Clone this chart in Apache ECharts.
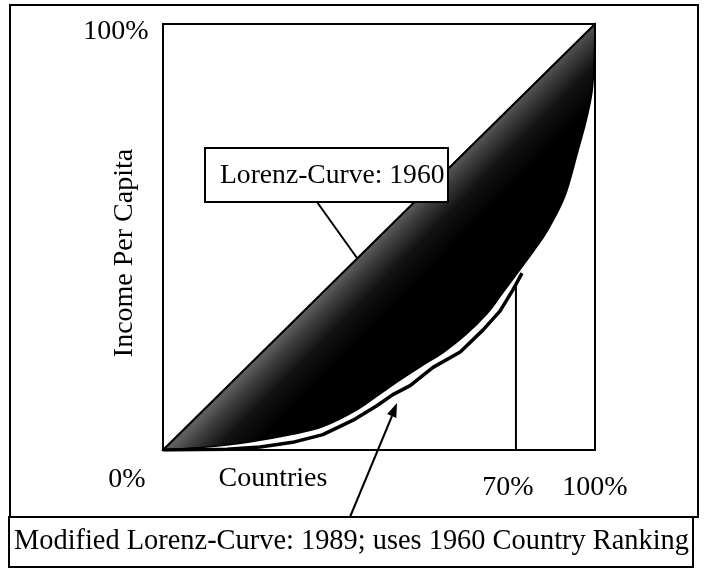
<!DOCTYPE html>
<html><head><meta charset="utf-8">
<script src="https://cdn.jsdelivr.net/npm/echarts@6/dist/echarts.min.js"></script>
<style>html,body{margin:0;padding:0;background:#fff}#c{width:704px;height:570px}</style>
</head><body><div id="c"></div>
<script>
// ---- data (percent of countries on x, percent of income per capita on y) ----
const lorenz1960X = [0, 10, 20, 30, 37, 45, 50, 55, 60, 65, 70, 75, 78, 82, 86, 89, 93, 96, 98, 99.3, 99.8, 100];
const lorenz1960Y = [0, 0.7, 1.9, 3.7, 5.5, 9.5, 13, 16.5, 19.8, 23, 27, 32, 36, 41.5, 47, 51.5, 59.5, 70, 77.5, 84, 91, 100];
const lorenz1989X = [0, 14.8, 22.5, 30, 37, 44, 49.5, 53.2, 57.2, 62.5, 68.8, 74.1, 78, 81, 83.1];
const lorenz1989Y = [0, 0.2, 0.7, 1.8, 3.6, 7, 10.4, 13, 15.1, 19.4, 23, 28.2, 32.6, 37.6, 41.5];
const equalityX = [0, 100];
const equalityY = [0, 100];
const marker70X = 81.7;      // position of the "70%" marker line on the country axis
const marker70Top = 38.9;    // where it meets the 1989 curve
const xTickLabels = ['0%', '70%', '100%'];
const yTickLabels = ['100%'];
const xAxisTitle = 'Countries';
const yAxisTitle = 'Income Per Capita';
const label1960 = 'Lorenz-Curve: 1960';
const label1989 = 'Modified Lorenz-Curve: 1989; uses 1960 Country Ranking';

const pairs = (xs, ys) => xs.map((x, i) => [x, ys[i]]);
const FONT = '28px "Liberation Serif", "Times New Roman", serif';

// Catmull-Rom spline through pixel points (rendering only)
function splinePath(pts) {
  let d = 'M' + pts[0][0] + ',' + pts[0][1];
  for (let i = 0; i < pts.length - 1; i++) {
    const p0 = pts[i - 1] || pts[i], p1 = pts[i], p2 = pts[i + 1], p3 = pts[i + 2] || pts[i + 1];
    const c1x = p1[0] + (p2[0] - p0[0]) / 6, c1y = p1[1] + (p2[1] - p0[1]) / 6;
    const c2x = p2[0] - (p3[0] - p1[0]) / 6, c2y = p2[1] - (p3[1] - p1[1]) / 6;
    d += 'C' + c1x + ',' + c1y + ',' + c2x + ',' + c2y + ',' + p2[0] + ',' + p2[1];
  }
  return d;
}

const chart = echarts.init(document.getElementById('c'), null, {renderer: 'canvas'});

const txt = (text, x, y, align, extra, font) => Object.assign({
  type: 'text', z: 100, x: x, y: y,
  style: {text: text, font: font || FONT, fill: '#000', textAlign: align || 'center', textVerticalAlign: 'middle'}
}, extra || {});

chart.setOption({
  animation: false,
  backgroundColor: '#fff',
  grid: {left: 163, top: 24, width: 432, height: 426, show: true, borderColor: '#000', borderWidth: 2, backgroundColor: 'transparent', z: 5},
  xAxis: {type: 'value', min: 0, max: 100, axisLine: {show: false}, axisTick: {show: false}, axisLabel: {show: false}, splitLine: {show: false}},
  yAxis: {type: 'value', min: 0, max: 100, axisLine: {show: false}, axisTick: {show: false}, axisLabel: {show: false}, splitLine: {show: false}},
  series: [
    {
      type: 'custom', name: 'gap', coordinateSystem: 'cartesian2d', silent: true, z: 1,
      data: [[0, 0]],
      renderItem: function (params, api) {
        const pts = lorenz1960X.map((x, i) => api.coord([x, lorenz1960Y[i]]));
        const a = api.coord([50, 50]);
        const b = api.coord([100, 0]);
        const dx = b[0] - a[0], dy = b[1] - a[1];
        const len = Math.hypot(dx, dy);
        const band = 60;
        return {
          type: 'path',
          shape: {pathData: splinePath(pts) + 'Z'},
          style: {
            fill: {
              type: 'linear', global: true,
              x: a[0], y: a[1], x2: a[0] + dx / len * band, y2: a[1] + dy / len * band,
              colorStops: [
                {offset: 0, color: '#5e5e5e'},
                {offset: 0.2, color: '#3e3e3e'},
                {offset: 0.55, color: '#121212'},
                {offset: 1, color: '#000'}
              ]
            },
            stroke: '#000', lineWidth: 1.5
          }
        };
      }
    },
    {type: 'line', name: 'equality', data: pairs(equalityX, equalityY), showSymbol: false, silent: true, z: 2,
     lineStyle: {color: '#000', width: 2}},
    {type: 'line', name: '1989', data: pairs(lorenz1989X, lorenz1989Y), showSymbol: false, silent: true, z: 3,
     lineStyle: {color: '#000', width: 3.5}},
    {type: 'line', name: 'marker', data: [[marker70X, 0], [marker70X, marker70Top]], showSymbol: false, silent: true, z: 3,
     lineStyle: {color: '#000', width: 2}}
  ],
  graphic: [
    {type: 'rect', z: 90, shape: {x: 10, y: 5, width: 688, height: 512}, style: {fill: 'none', stroke: '#000', lineWidth: 2}},
    {type: 'rect', z: 90, shape: {x: 9, y: 517, width: 684, height: 50}, style: {fill: '#fff', stroke: '#000', lineWidth: 2}},
    txt(label1989, 14, 542, 'left', null, '28.4px "Liberation Serif", "Times New Roman", serif'),
    // annotation for 1960 curve
    {type: 'line', z: 95, shape: {x1: 317, y1: 202, x2: 357, y2: 258}, style: {stroke: '#000', lineWidth: 2}},
    {type: 'rect', z: 96, shape: {x: 205, y: 148, width: 243, height: 54}, style: {fill: '#fff', stroke: '#000', lineWidth: 2}},
    txt(label1960, 220, 176, 'left', null, '27.6px "Liberation Serif", "Times New Roman", serif'),
    // arrow for 1989 curve
    {type: 'line', z: 95, shape: {x1: 350, y1: 517, x2: 392, y2: 416}, style: {stroke: '#000', lineWidth: 2}},
    {type: 'polygon', z: 95, shape: {points: [[397, 403], [396.3, 418], [387.1, 414]]}, style: {fill: '#000'}},
    // axis texts
    txt(yTickLabels[0], 116, 32),
    txt(xTickLabels[0], 127, 480),
    txt(xAxisTitle, 273, 479),
    txt(xTickLabels[1], 508, 488),
    txt(xTickLabels[2], 595, 488),
    txt(yAxisTitle, 125, 253, 'center', {rotation: Math.PI / 2})
  ]
});
</script>
</body></html>
